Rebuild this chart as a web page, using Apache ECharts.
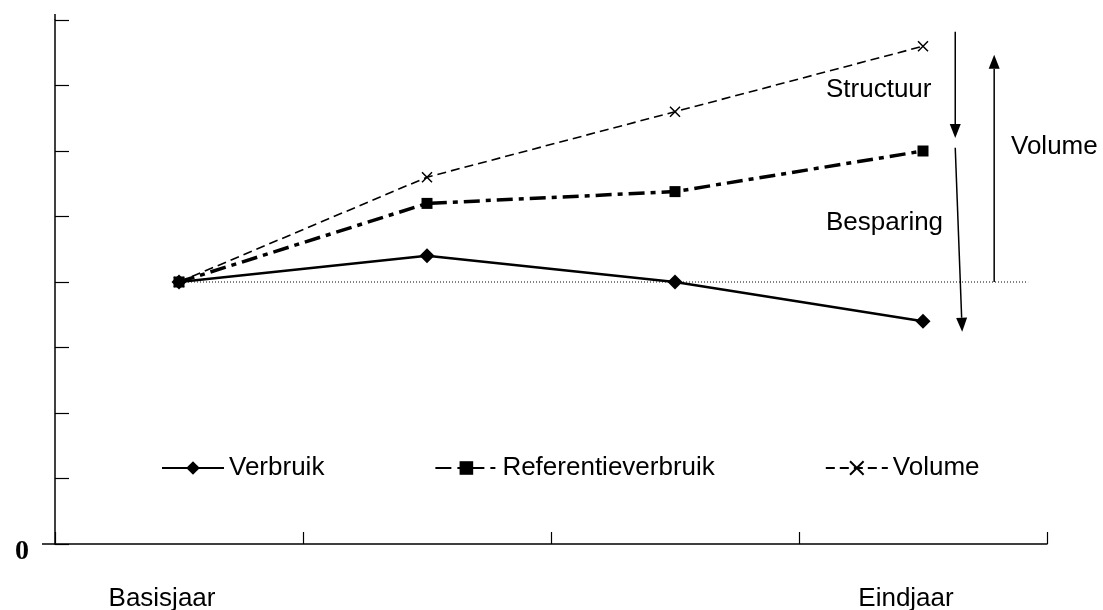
<!DOCTYPE html>
<html>
<head>
<meta charset="utf-8">
<script src="https://cdn.jsdelivr.net/npm/echarts@6/dist/echarts.min.js"></script>
<style>
  html, body { margin: 0; padding: 0; background: #fff; }
  #chart { width: 1103px; height: 610px; }
</style>
</head>
<body>
<div id="chart"></div>
<script>
// categories and series values (y unit = one tick)
const categories = ['Basisjaar', '', '', 'Eindjaar']
const verbruik = [4, 4.4, 4, 3.4]
const referentieverbruik = [4, 5.2, 5.38, 6]
const volume = [4, 5.6, 6.6, 7.6]
const baseLevel = 4

const font = 'Liberation Sans, Arial, sans-serif'
const black = '#000'

const chart = echarts.init(document.getElementById('chart'), null, { renderer: 'canvas' })

chart.setOption({
  animation: false,
  grid: { left: 55, right: 56, top: 20, bottom: 66, containLabel: false, outerBoundsMode: 'none' },
  legend: {
    left: 156,
    top: 450,
    itemWidth: 62,
    itemHeight: 17,
    itemGap: 110,
    textStyle: { fontFamily: font, fontSize: 26, color: black },
    data: ['Verbruik', 'Referentieverbruik', 'Volume']
  },
  xAxis: {
    type: 'category',
    data: categories,
    boundaryGap: true,
    axisLine: { lineStyle: { color: black, width: 1.5 } },
    axisTick: { show: true, interval: 0, inside: true, length: 12, lineStyle: { color: black, width: 1.2 } },
    axisLabel: {
      margin: 42,
      fontFamily: font,
      fontSize: 26,
      color: black,
      interval: 0,
      padding: [0, 34, 0, 0]
    },
    splitLine: { show: false }
  },
  yAxis: {
    type: 'value',
    min: 0,
    max: 8,
    interval: 1,
    axisLine: { show: true, lineStyle: { color: black, width: 1.5 } },
    axisTick: { show: true, inside: true, length: 14, lineStyle: { color: black, width: 1.2 } },
    axisLabel: {
      margin: 26,
      fontFamily: 'Liberation Serif, Times New Roman, serif',
      fontWeight: 'bold',
      fontSize: 28,
      color: black,
      verticalAlign: 'top',
      lineHeight: 16,
      formatter: v => (v === 0 ? '0' : '')
    },
    splitLine: { show: false }
  },
  series: [
    {
      name: 'Verbruik',
      type: 'line',
      data: verbruik,
      symbol: 'diamond',
      symbolSize: 15,
      itemStyle: { color: black },
      lineStyle: { color: black, width: 2.5 },
      z: 4
    },
    {
      name: 'Referentieverbruik',
      type: 'line',
      data: referentieverbruik,
      symbol: 'rect',
      symbolSize: 11,
      itemStyle: { color: black },
      lineStyle: { color: black, width: 3.5, type: [16, 6, 5, 6] },
      z: 3
    },
    {
      name: 'Volume',
      type: 'line',
      data: volume,
      symbol: 'path://M0,0L10,10M10,0L0,10',
      symbolSize: 10,
      itemStyle: { color: 'transparent', borderColor: black, borderWidth: 1.5 },
      lineStyle: { color: black, width: 1.6, type: [9, 5] },
      z: 2
    }
  ]
})

// annotations: arrows and dotted base line, placed through the axes
// catPos is a (fractional) category index, value is in y units
function px(catPos, value) {
  const p0 = chart.convertToPixel({ seriesIndex: 0 }, [0, value])
  const p1 = chart.convertToPixel({ seriesIndex: 0 }, [1, value])
  const band = p1[0] - p0[0]
  return [p0[0] + catPos * band, p0[1]]
}

function arrow(a, b) {
  const dx = b[0] - a[0]
  const dy = b[1] - a[1]
  const len = Math.sqrt(dx * dx + dy * dy)
  const ux = dx / len
  const uy = dy / len
  const head = 14
  const half = 5.5
  const bx = b[0] - ux * head
  const by = b[1] - uy * head
  return [
    {
      type: 'line',
      shape: { x1: a[0], y1: a[1], x2: bx, y2: by },
      style: { stroke: black, lineWidth: 1.5 },
      silent: true
    },
    {
      type: 'polygon',
      shape: { points: [[b[0], b[1]], [bx - uy * half, by + ux * half], [bx + uy * half, by - ux * half]] },
      style: { fill: black },
      silent: true
    }
  ]
}

function label(text, x, y) {
  return {
    type: 'text',
    x: x,
    y: y,
    silent: true,
    style: {
      text: text,
      font: '26px ' + font,
      fill: black,
      textVerticalAlign: 'middle',
      verticalAlign: 'middle'
    }
  }
}

const last = categories.length - 1
const origin = px(-0.5, 0)
const yTop = px(-0.5, 8)
const basePx0 = px(0, baseLevel)
const basePx1 = px(last + 0.424, baseLevel)

const elements = [
  {
    type: 'line',
    shape: { x1: basePx0[0], y1: basePx0[1], x2: basePx1[0], y2: basePx1[1] },
    style: { stroke: black, lineWidth: 1, lineDash: [1, 2] },
    silent: true,
    z: 1
  },
  // small stubs of the axes past the corner and the top tick
  {
    type: 'line',
    shape: { x1: yTop[0], y1: yTop[1], x2: yTop[0], y2: yTop[1] - 6 },
    style: { stroke: black, lineWidth: 1.5 },
    silent: true
  },
  {
    type: 'line',
    shape: { x1: origin[0] - 13, y1: origin[1], x2: origin[0], y2: origin[1] },
    style: { stroke: black, lineWidth: 1.5 },
    silent: true
  }
]
  .concat(arrow(px(last + 0.13, 7.82), px(last + 0.13, 6.2)))
  .concat(arrow(px(last + 0.13, 6.05), px(last + 0.158, 3.24)))
  .concat(arrow(px(last + 0.287, baseLevel), px(last + 0.287, 7.47)))
  .concat([
    label('Structuur', 826, 90),
    label('Besparing', 826, 223),
    label('Volume', 1011, 147)
  ])

chart.setOption({ graphic: { elements: elements } })
</script>
</body>
</html>
